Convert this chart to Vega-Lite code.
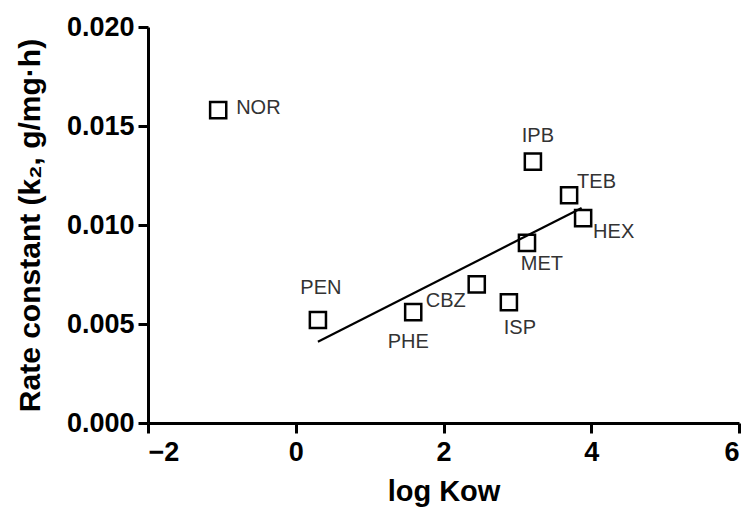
{
  "$schema": "https://vega.github.io/schema/vega-lite/v6.json",
  "width": 591,
  "height": 396,
  "autosize": {"type": "none"},
  "padding": {"left": 148, "top": 27, "right": 8, "bottom": 101},
  "background": "white",
  "config": {
    "view": {"stroke": null},
    "font": "Liberation Sans",
    "axis": {
      "grid": false,
      "domainColor": "black",
      "domainWidth": 3,
      "tickColor": "black",
      "tickWidth": 3,
      "tickSize": 10,
      "labelFont": "Liberation Sans",
      "labelFontWeight": "bold",
      "labelFontSize": 27,
      "labelColor": "black",
      "titleFont": "Liberation Sans",
      "titleFontWeight": "bold",
      "titleFontSize": 29,
      "titleColor": "black"
    }
  },
  "datasets": {
    "pts": [
      {"compound": "NOR", "logKow": -1.05, "k2": 0.0158},
      {"compound": "IPB", "logKow": 3.21, "k2": 0.0132},
      {"compound": "TEB", "logKow": 3.70, "k2": 0.0115},
      {"compound": "HEX", "logKow": 3.89, "k2": 0.01035},
      {"compound": "MET", "logKow": 3.13, "k2": 0.0091},
      {"compound": "CBZ", "logKow": 2.45, "k2": 0.0070},
      {"compound": "ISP", "logKow": 2.885, "k2": 0.0061},
      {"compound": "PHE", "logKow": 1.59, "k2": 0.0056},
      {"compound": "PEN", "logKow": 0.30, "k2": 0.0052}
    ],
    "fit": [
      {"logKow": 0.30, "k2": 0.0041},
      {"logKow": 3.87, "k2": 0.01086}
    ]
  },
  "encoding": {
    "x": {
      "field": "logKow", "type": "quantitative",
      "scale": {"domain": [-2, 6], "nice": false, "zero": false},
      "axis": {"values": [-2, 0, 2, 4, 6], "title": "log Kow", "labelPadding": 6, "titlePadding": 12}
    },
    "y": {
      "field": "k2", "type": "quantitative",
      "scale": {"domain": [0, 0.02], "nice": false},
      "axis": {"values": [0, 0.005, 0.01, 0.015, 0.02], "format": ".3f", "title": "Rate constant (k₂, g/mg·h)", "titleFontSize": 30, "labelPadding": 4, "titlePadding": 21}
    }
  },
  "layer": [
    {
      "data": {"name": "fit"},
      "mark": {"type": "line", "color": "black", "strokeWidth": 2.2},
      "encoding": {}
    },
    {
      "data": {"name": "pts"},
      "mark": {"type": "point", "shape": "square", "filled": false, "color": "black", "strokeWidth": 2.5, "size": 260, "opacity": 1},
      "encoding": {}
    },
    {
      "data": {"name": "pts"},
      "transform": [{"filter": "datum.compound == 'NOR'"}],
      "mark": {"type": "text", "align": "left", "baseline": "middle", "dx": 18, "dy": -2, "fontSize": 20, "color": "#333"},
      "encoding": {"text": {"field": "compound"}}
    },
    {
      "data": {"name": "pts"},
      "transform": [{"filter": "datum.compound == 'IPB'"}],
      "mark": {"type": "text", "align": "center", "baseline": "middle", "dx": 5, "dy": -26, "fontSize": 20, "color": "#333"},
      "encoding": {"text": {"field": "compound"}}
    },
    {
      "data": {"name": "pts"},
      "transform": [{"filter": "datum.compound == 'TEB'"}],
      "mark": {"type": "text", "align": "left", "baseline": "middle", "dx": 8, "dy": -13, "fontSize": 20, "color": "#333"},
      "encoding": {"text": {"field": "compound"}}
    },
    {
      "data": {"name": "pts"},
      "transform": [{"filter": "datum.compound == 'HEX'"}],
      "mark": {"type": "text", "align": "left", "baseline": "middle", "dx": 10, "dy": 14, "fontSize": 20, "color": "#333"},
      "encoding": {"text": {"field": "compound"}}
    },
    {
      "data": {"name": "pts"},
      "transform": [{"filter": "datum.compound == 'MET'"}],
      "mark": {"type": "text", "align": "center", "baseline": "middle", "dx": 15, "dy": 21, "fontSize": 20, "color": "#333"},
      "encoding": {"text": {"field": "compound"}}
    },
    {
      "data": {"name": "pts"},
      "transform": [{"filter": "datum.compound == 'CBZ'"}],
      "mark": {"type": "text", "align": "center", "baseline": "middle", "dx": -31, "dy": 17, "fontSize": 20, "color": "#333"},
      "encoding": {"text": {"field": "compound"}}
    },
    {
      "data": {"name": "pts"},
      "transform": [{"filter": "datum.compound == 'ISP'"}],
      "mark": {"type": "text", "align": "center", "baseline": "middle", "dx": 11, "dy": 26, "fontSize": 20, "color": "#333"},
      "encoding": {"text": {"field": "compound"}}
    },
    {
      "data": {"name": "pts"},
      "transform": [{"filter": "datum.compound == 'PHE'"}],
      "mark": {"type": "text", "align": "center", "baseline": "middle", "dx": -5, "dy": 30, "fontSize": 20, "color": "#333"},
      "encoding": {"text": {"field": "compound"}}
    },
    {
      "data": {"name": "pts"},
      "transform": [{"filter": "datum.compound == 'PEN'"}],
      "mark": {"type": "text", "align": "center", "baseline": "middle", "dx": 3, "dy": -32, "fontSize": 20, "color": "#333"},
      "encoding": {"text": {"field": "compound"}}
    }
  ]
}
